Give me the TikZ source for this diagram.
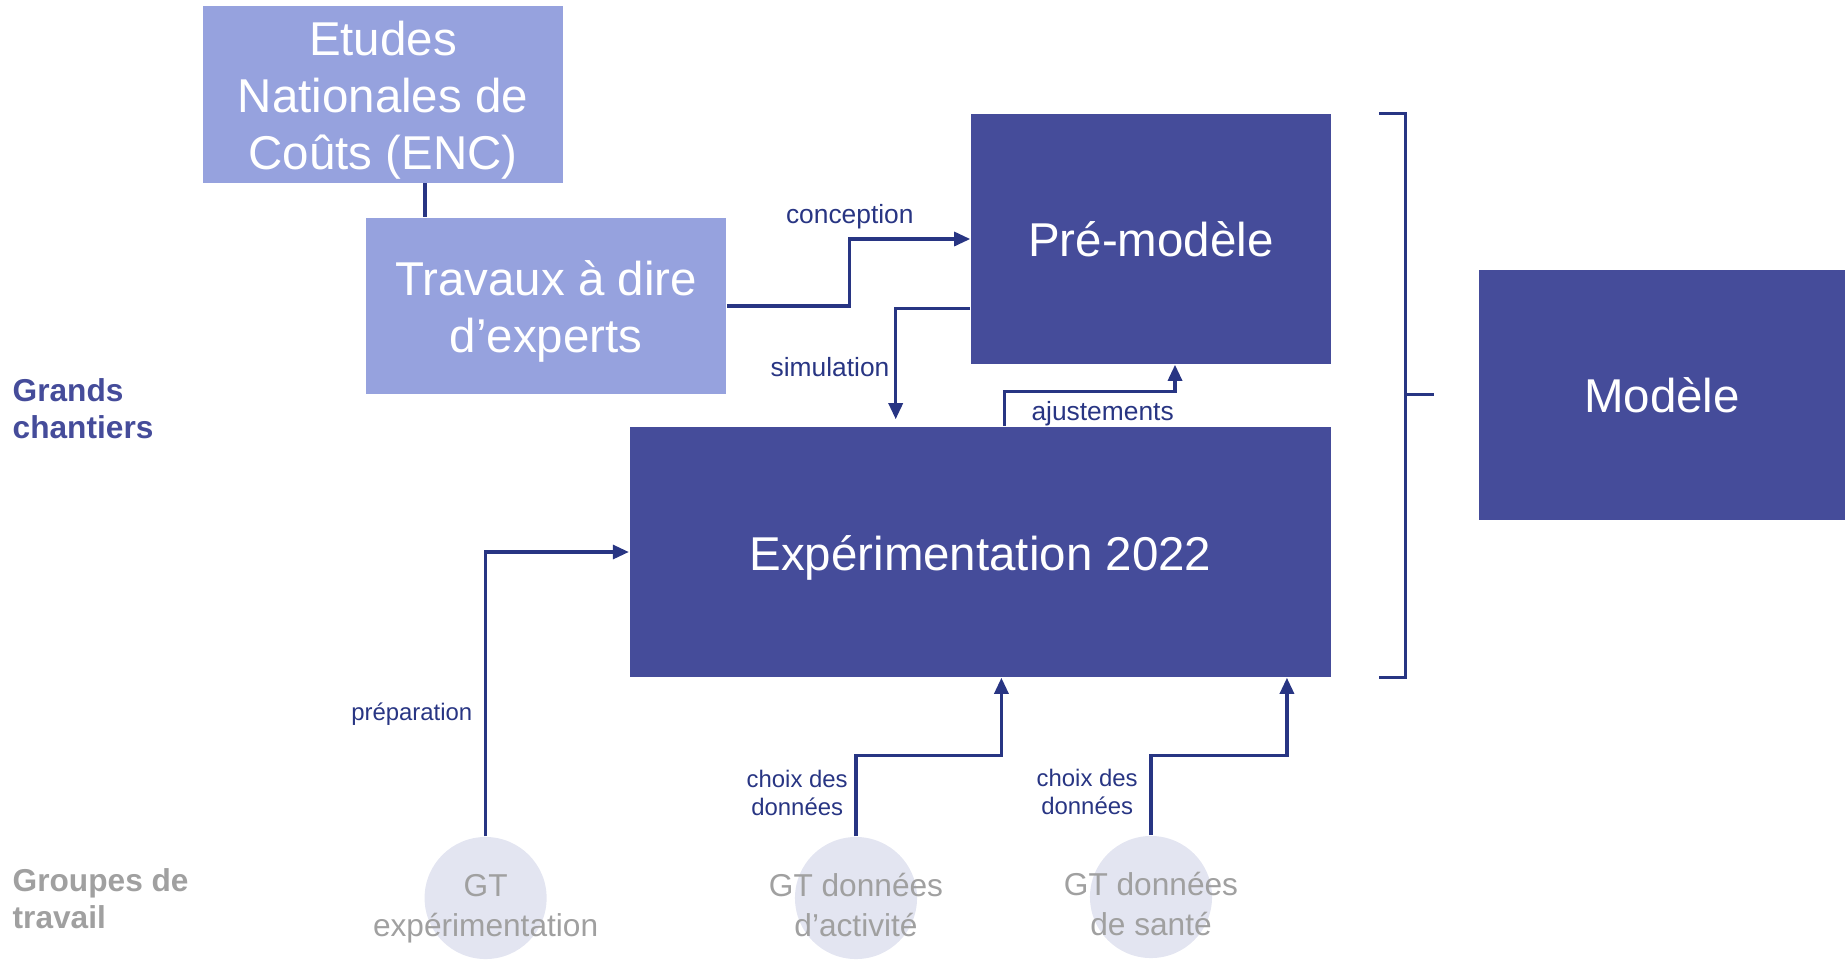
\documentclass[tikz,border=0pt]{standalone}
\usepackage{fontspec}
\setmainfont{Liberation Sans}
\usepackage{tikz}
\usetikzlibrary{arrows.meta}
\usetikzlibrary{positioning}
\usepackage{xcolor}
\definecolor{fonce}{RGB}{69,76,154}
\definecolor{clair}{RGB}{150,162,222}
\definecolor{trait}{RGB}{40,53,131}
\definecolor{fondgt}{RGB}{227,229,241}
\definecolor{gris}{RGB}{160,160,160}
\newcommand{\hautligne}{\rule{0pt}{13.3pt}}
\tikzset{
  boite/.style={fill=fonce,text=white,align=center,inner sep=0pt,font=\fontsize{13.5}{16.2}\selectfont},
  boiteclair/.style={boite,fill=clair},
  lien/.style={draw=trait,line width=0.9pt},
  fleche/.style={lien,-{Triangle[length=0.16cm,width=0.14cm]}},
  etiq/.style={text=trait,font=\fontsize{7.5}{9}\selectfont},
  petit/.style={text=trait,align=center,font=\fontsize{6.8}{8}\selectfont},
  gt/.style={circle,fill=fondgt,minimum size=1.22cm,inner sep=0pt},
  gttexte/.style={text=gris,align=center,font=\fontsize{9}{11.4}\selectfont},
  titre/.style={anchor=west,align=left,inner sep=0pt,font=\bfseries\fontsize{9}{10.5}\selectfont}
}
\begin{document}
\begin{tikzpicture}[x=0.01cm,y=0.01cm]
\useasboundingbox (0,0) rectangle (1845,-963);
\node[boiteclair,minimum width=3.59cm,minimum height=1.766cm] (enc) at (383,-94.3) {\hautligne Etudes\\Nationales de\\Coûts (ENC)};
\node[boiteclair,minimum width=3.6cm,minimum height=1.76cm] (trav) at (546,-306) {\hautligne Travaux à dire\\d’experts};
\node[boite,minimum width=3.6cm,minimum height=2.5cm] (pre) at (1151,-239) {Pré-modèle};
\node[boite,minimum width=7.013cm,minimum height=2.5cm] (exp) at (980.4,-552) {\hautligne Expérimentation 2022};
\node[boite,minimum width=3.66cm,minimum height=2.495cm] (mod) at (1662,-394.8) {Modèle};
\node[titre,text=fonce] (gc) at (12,-409) {Grands\\chantiers};
\node[titre,text=gris] (gtr) at (12,-899) {Groupes de\\travail};
\node[gt] (c1) at (485.6,-898) {};
\node[gt] (c2) at (856,-898) {};
\node[gt] (c3) at (1151,-897) {};
\node[gttexte] (t1) at ([yshift=-0.11cm]c1.center) {GT\\expérimentation};
\node[gttexte] (t2) at ([yshift=-0.07cm]c2.center) {GT données\\d’activité};
\node[gttexte] (t3) at ([yshift=-0.07cm]c3.center) {GT données\\de santé};
\draw[lien] ([xshift=0.42cm]enc.south) -- ([xshift=0.42cm]enc.south |- trav.north);
\draw[fleche] (trav.east) -- ++(123,0) |- (pre.west) node[etiq,pos=0.5,above,yshift=-0.035cm] (lconc) {conception};
\draw[fleche,shorten >=0.07cm] ([yshift=0.56cm]pre.south west) -| ([xshift=2.667cm]exp.north west) node[etiq,pos=0.75,left,xshift=0.07cm] (lsim) {simulation};
\draw[fleche] ([xshift=0.24cm]exp.north) -- ++(0,35) -| ([xshift=0.24cm]pre.south) node[etiq,pos=0.5,below left,xshift=0.12cm,yshift=0.035cm] (laj) {ajustements};
\draw[fleche] (c1.north) |- (exp.west) node[petit,pos=0.214,left] (lprep) {préparation};
\draw[fleche] (c2.north) -- ++(0,81) node[petit,midway,left,xshift=0.05cm,yshift=0.03cm] (lch1) {choix des\\données} -| ([xshift=0.21cm]exp.south);
\draw[fleche] (c3.north) -- ++(0,80) node[petit,midway,left,yshift=0.03cm] (lch2) {choix des\\données} -| ([xshift=-0.45cm]exp.south east);
\draw[lien] ([xshift=0.47cm]pre.north east) -- ++(27,0) |- ([xshift=0.47cm]exp.south east);
\draw[lien] ([xshift=-0.74cm]mod.west) -- ([xshift=-0.44cm]mod.west);
\end{tikzpicture}
\end{document}
